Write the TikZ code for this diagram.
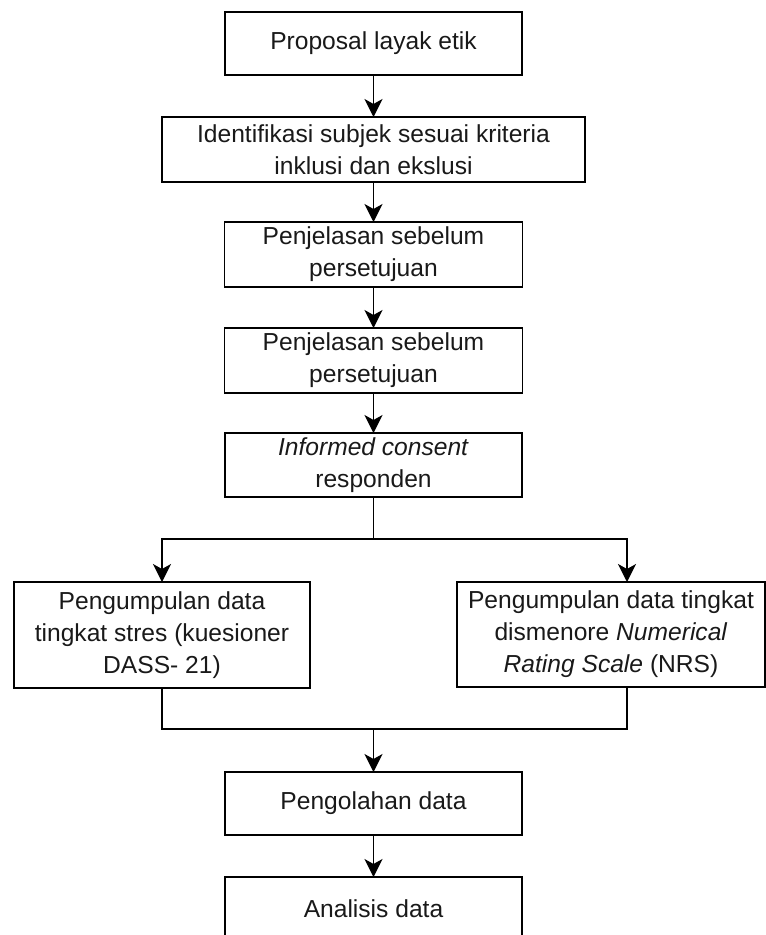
\documentclass[tikz,border=0pt]{standalone}
\usepackage{fontspec}
\setmainfont{Liberation Sans}
\usetikzlibrary{arrows.meta}
\tikzset{
  flowbox/.style={draw=black, line width=1.6pt, inner sep=0pt, outer sep=0pt,
    align=center, text=black!90, font=\fontsize{24.6}{32}\selectfont},
  conn/.style={draw=black, line width=1.5pt},
  arr/.style={conn, -{Stealth[length=18pt,width=18pt,inset=5pt]}}
}
\begin{document}
\begin{tikzpicture}[x=1pt,y=-1pt]
\useasboundingbox (0,0) rectangle (766,935);
\clip (0,0) rectangle (766,935);
\node[flowbox, minimum width=297, minimum height=63] (b1) at (373.5,43.5) {Proposal layak etik};
\node[flowbox, minimum width=423, minimum height=65] (b2) at (373.5,149.5) {Identifikasi subjek sesuai kriteria\\inklusi dan ekslusi};
\node[flowbox, minimum width=298, minimum height=65] (b3) at (373.5,254.5) {Penjelasan sebelum\\persetujuan};
\node[flowbox, minimum width=298, minimum height=65] (b4) at (373.5,360.5) {Penjelasan sebelum\\persetujuan};
\node[flowbox, minimum width=297, minimum height=64] (b5) at (373.5,465) {\textit{Informed consent}\\responden};
\node[flowbox, minimum width=296, minimum height=106] (bl) at (162,635) {Pengumpulan data\\tingkat stres (kuesioner\\DASS- 21)};
\node[flowbox, minimum width=308, minimum height=105] (br) at (611,634.5) {Pengumpulan data tingkat\\dismenore \textit{Numerical}\\\textit{Rating Scale} (NRS)};
\node[flowbox, minimum width=297, minimum height=63] (b8) at (373.5,803.5) {Pengolahan data};
\node[flowbox, minimum width=297, minimum height=126, anchor=north] (b9) at (373.5,877) {};
\node[text=black!90, font=\fontsize{24.6}{32}\selectfont, inner sep=0pt] (t9) at (373.5,908.5) {Analisis data};
\coordinate (split) at (373.5,539);
\coordinate (merge) at (373.5,729);
\coordinate (rx) at (627,0);
\draw[arr] (b1.south) -- (b2.north);
\draw[arr] (b2.south) -- (b3.north);
\draw[arr] (b3.south) -- (b4.north);
\draw[arr] (b4.south) -- (b5.north);
\draw[conn] (b5.south) -- (split);
\draw[arr] (split) -| (bl.north);
\draw[arr] (split) -| (rx |- br.north);
\draw[conn] (bl.south) |- (merge);
\draw[conn] (rx |- br.south) |- (merge);
\draw[arr] (merge) -- (b8.north);
\draw[arr] (b8.south) -- (b9.north);
\end{tikzpicture}
\end{document}
